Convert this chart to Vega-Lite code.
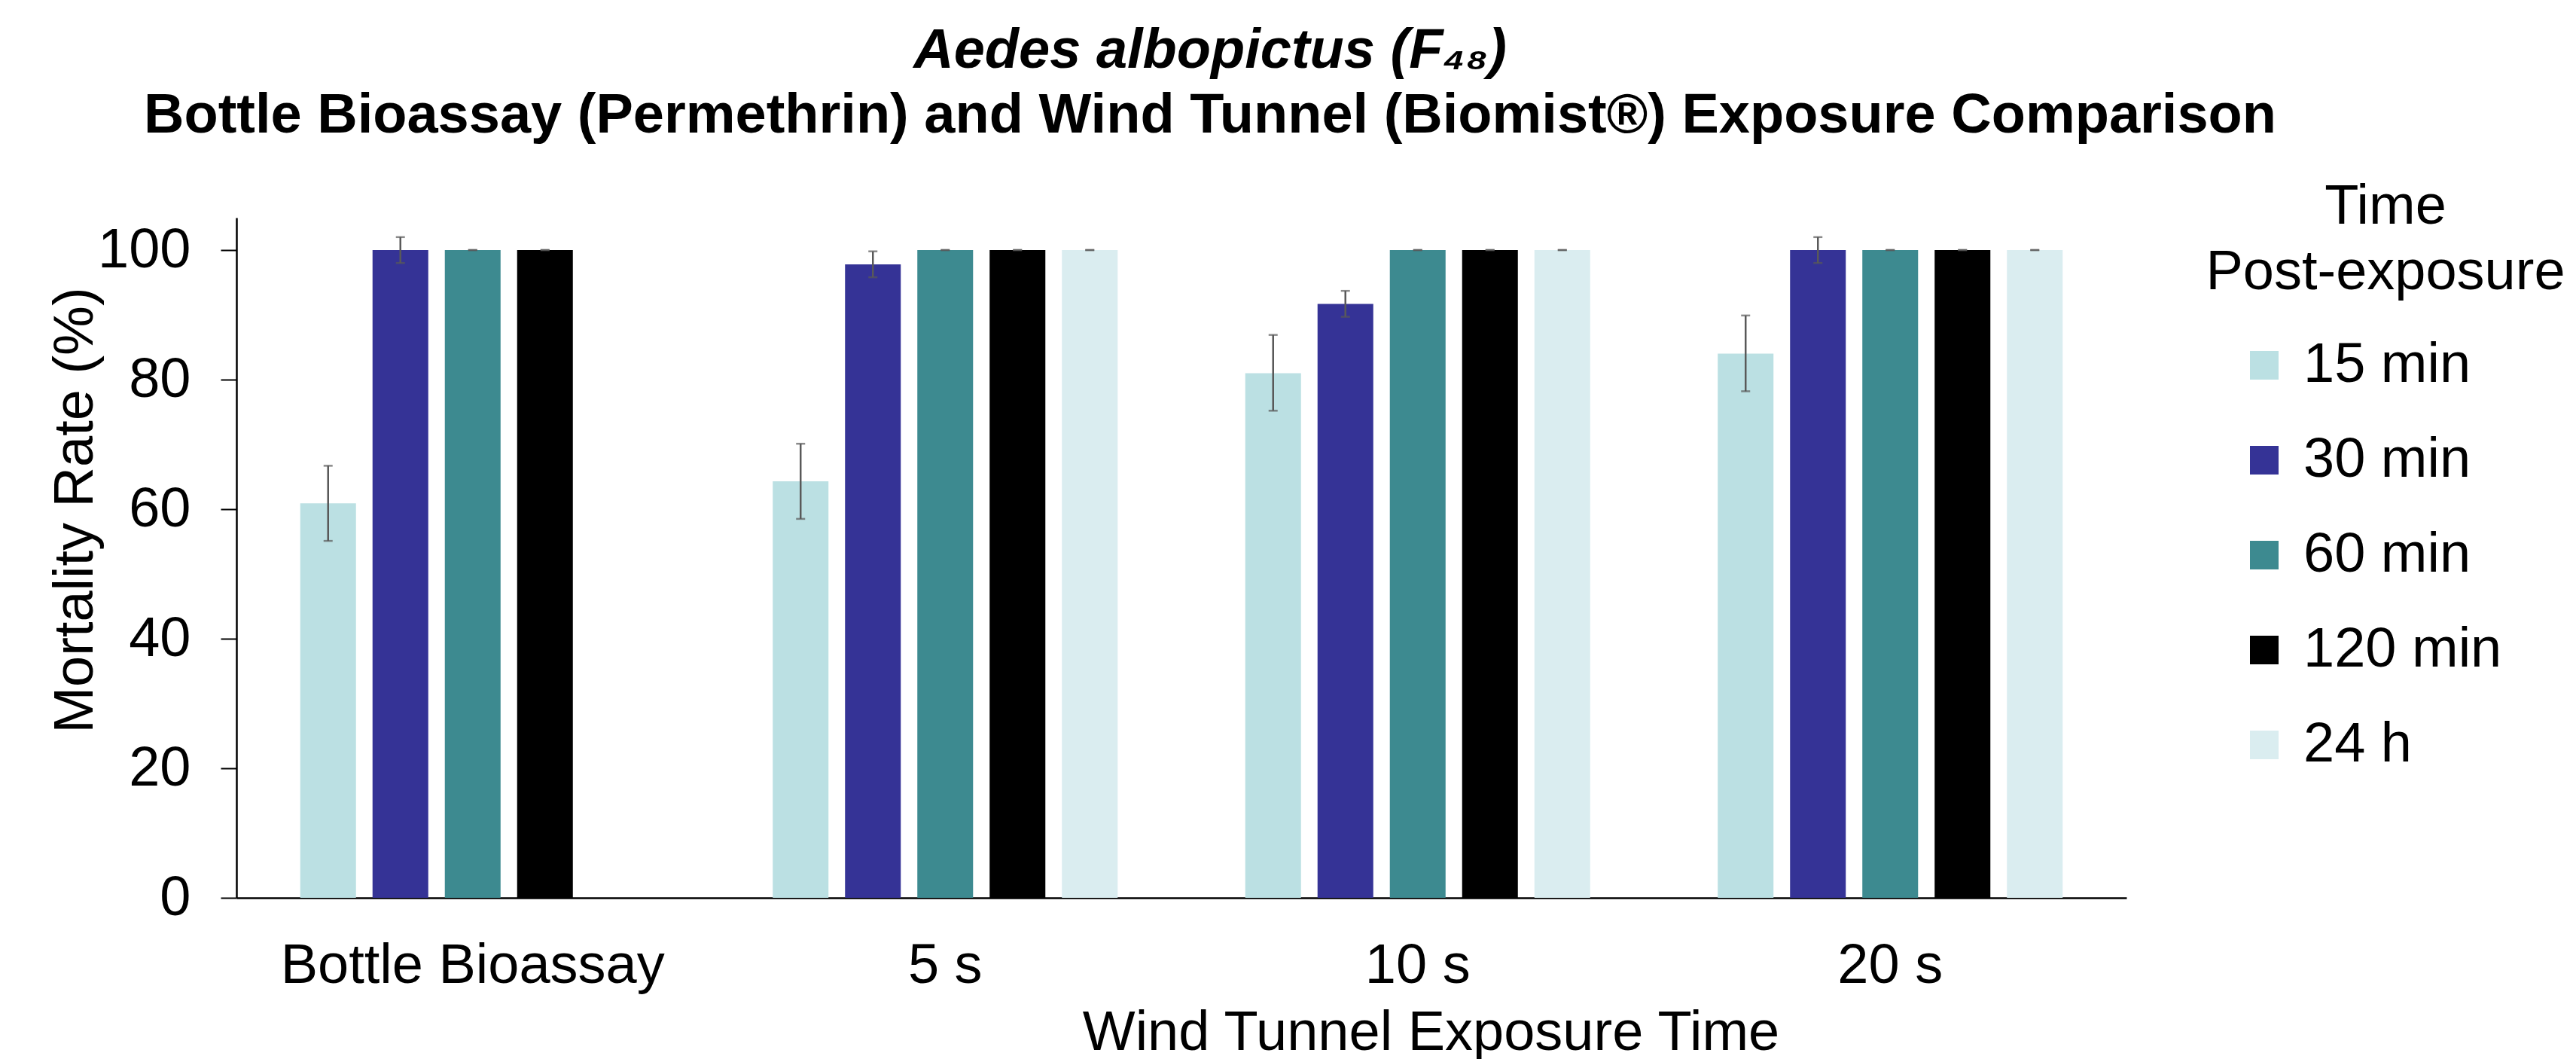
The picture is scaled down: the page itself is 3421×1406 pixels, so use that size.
{
  "$schema": "https://vega.github.io/schema/vega-lite/v6.json",
  "autosize": {"type": "none"},
  "padding": {"left": 314, "top": 289, "right": 597, "bottom": 214},
  "width": 2510,
  "height": 903,
  "background": "white",
  "title": {
    "text": "Aedes albopictus (F₄₈)",
    "subtitle": "Bottle Bioassay (Permethrin) and Wind Tunnel (Biomist®) Exposure Comparison",
    "font": "Liberation Sans",
    "fontSize": 74,
    "fontStyle": "italic",
    "fontWeight": "bold",
    "color": "black",
    "subtitleFont": "Liberation Sans",
    "subtitleFontSize": 74,
    "subtitleFontWeight": "bold",
    "subtitleFontStyle": "normal",
    "subtitleColor": "black",
    "subtitlePadding": 12,
    "anchor": "middle",
    "frame": "group",
    "dx": 38,
    "offset": 47,
    "limit": 3400
  },
  "data": {
    "values": [
      {"group": "Bottle Bioassay", "time": "15 min", "mean": 60.9, "lo": 55.1, "hi": 66.7},
      {"group": "Bottle Bioassay", "time": "30 min", "mean": 100, "lo": 98, "hi": 102},
      {"group": "Bottle Bioassay", "time": "60 min", "mean": 100, "lo": 100, "hi": 100},
      {"group": "Bottle Bioassay", "time": "120 min", "mean": 100, "lo": 100, "hi": 100},
      {"group": "5 s", "time": "15 min", "mean": 64.3, "lo": 58.5, "hi": 70.1},
      {"group": "5 s", "time": "30 min", "mean": 97.8, "lo": 95.8, "hi": 99.8},
      {"group": "5 s", "time": "60 min", "mean": 100, "lo": 100, "hi": 100},
      {"group": "5 s", "time": "120 min", "mean": 100, "lo": 100, "hi": 100},
      {"group": "5 s", "time": "24 h", "mean": 100, "lo": 100, "hi": 100},
      {"group": "10 s", "time": "15 min", "mean": 81.0, "lo": 75.2, "hi": 86.9},
      {"group": "10 s", "time": "30 min", "mean": 91.7, "lo": 89.7, "hi": 93.7},
      {"group": "10 s", "time": "60 min", "mean": 100, "lo": 100, "hi": 100},
      {"group": "10 s", "time": "120 min", "mean": 100, "lo": 100, "hi": 100},
      {"group": "10 s", "time": "24 h", "mean": 100, "lo": 100, "hi": 100},
      {"group": "20 s", "time": "15 min", "mean": 84.0, "lo": 78.2, "hi": 89.9},
      {"group": "20 s", "time": "30 min", "mean": 100, "lo": 98, "hi": 102},
      {"group": "20 s", "time": "60 min", "mean": 100, "lo": 100, "hi": 100},
      {"group": "20 s", "time": "120 min", "mean": 100, "lo": 100, "hi": 100},
      {"group": "20 s", "time": "24 h", "mean": 100, "lo": 100, "hi": 100}
    ]
  },
  "encoding": {
    "x": {
      "field": "group",
      "type": "nominal",
      "sort": ["Bottle Bioassay", "5 s", "10 s", "20 s"],
      "scale": {"paddingInner": 0.235, "paddingOuter": 0.1175},
      "axis": {
        "title": "Wind Tunnel Exposure Time",
        "titleFont": "Liberation Sans",
        "titleFontSize": 74,
        "titleFontWeight": "normal",
        "titleColor": "black",
        "titleX": 1586,
        "titleY": 201,
        "titleAlign": "center",
        "titleBaseline": "alphabetic",
        "titleLimit": 2000,
        "labelFont": "Liberation Sans",
        "labelFontSize": 74,
        "labelColor": "black",
        "labelAngle": 0,
        "labelPadding": 54,
        "labelLimit": 1000,
        "labelOverlap": false,
        "ticks": false,
        "tickSize": 0,
        "domainColor": "black",
        "domainWidth": 2.5
      }
    },
    "xOffset": {
      "field": "time",
      "type": "nominal",
      "sort": ["15 min", "30 min", "60 min", "120 min", "24 h"],
      "scale": {"paddingInner": 0.229, "paddingOuter": 0.1145}
    }
  },
  "layer": [
    {
      "mark": {"type": "bar"},
      "encoding": {
        "y": {
          "field": "mean",
          "type": "quantitative",
          "scale": {"domain": [0, 105], "nice": false},
          "axis": {
            "title": "Mortality Rate (%)",
            "titleFont": "Liberation Sans",
            "titleFontSize": 74,
            "titleFontWeight": "normal",
            "titleColor": "black",
            "titleAngle": 270,
            "titleX": -192,
            "titleY": 388,
            "titleAlign": "center",
            "titleBaseline": "alphabetic",
            "titleLimit": 2000,
            "values": [0, 20, 40, 60, 80, 100],
            "labelFont": "Liberation Sans",
            "labelFontSize": 74,
            "labelColor": "black",
            "labelPadding": 40,
            "tickSize": 21,
            "tickColor": "black",
            "tickWidth": 2,
            "domainColor": "black",
            "domainWidth": 2.5,
            "grid": false
          }
        },
        "color": {
          "field": "time",
          "type": "nominal",
          "scale": {
            "domain": ["15 min", "30 min", "60 min", "120 min", "24 h"],
            "range": ["#BBE0E3", "#353396", "#3D8A90", "#000000", "#DAEDF0"]
          },
          "legend": {
            "title": ["Time", "Post-exposure"],
            "orient": "none",
            "legendX": 2615,
            "legendY": -50,
            "padding": 0,
            "titleFont": "Liberation Sans",
            "titleFontSize": 74,
            "titleFontWeight": "normal",
            "titleColor": "black",
            "titleLineHeight": 87,
            "titleAlign": "center",
            "titleAnchor": "middle",
            "titlePadding": 48,
            "titleLimit": 1000,
            "labelFont": "Liberation Sans",
            "labelFontSize": 74,
            "labelColor": "black",
            "labelOffset": 15,
            "symbolOffset": -44,
            "symbolType": "square",
            "symbolSize": 1444,
            "symbolStrokeWidth": 0,
            "rowPadding": 52,
            "labelLimit": 600
          }
        }
      }
    },
    {
      "mark": {"type": "rule", "color": "#595959", "strokeWidth": 2.5},
      "encoding": {
        "y": {"field": "lo", "type": "quantitative"},
        "y2": {"field": "hi"}
      }
    },
    {
      "mark": {"type": "tick", "color": "#595959", "thickness": 2.5, "size": 12},
      "encoding": {
        "y": {"field": "lo", "type": "quantitative"}
      }
    },
    {
      "mark": {"type": "tick", "color": "#595959", "thickness": 2.5, "size": 12},
      "encoding": {
        "y": {"field": "hi", "type": "quantitative"}
      }
    }
  ],
  "config": {
    "view": {"stroke": null},
    "font": "Liberation Sans"
  }
}
